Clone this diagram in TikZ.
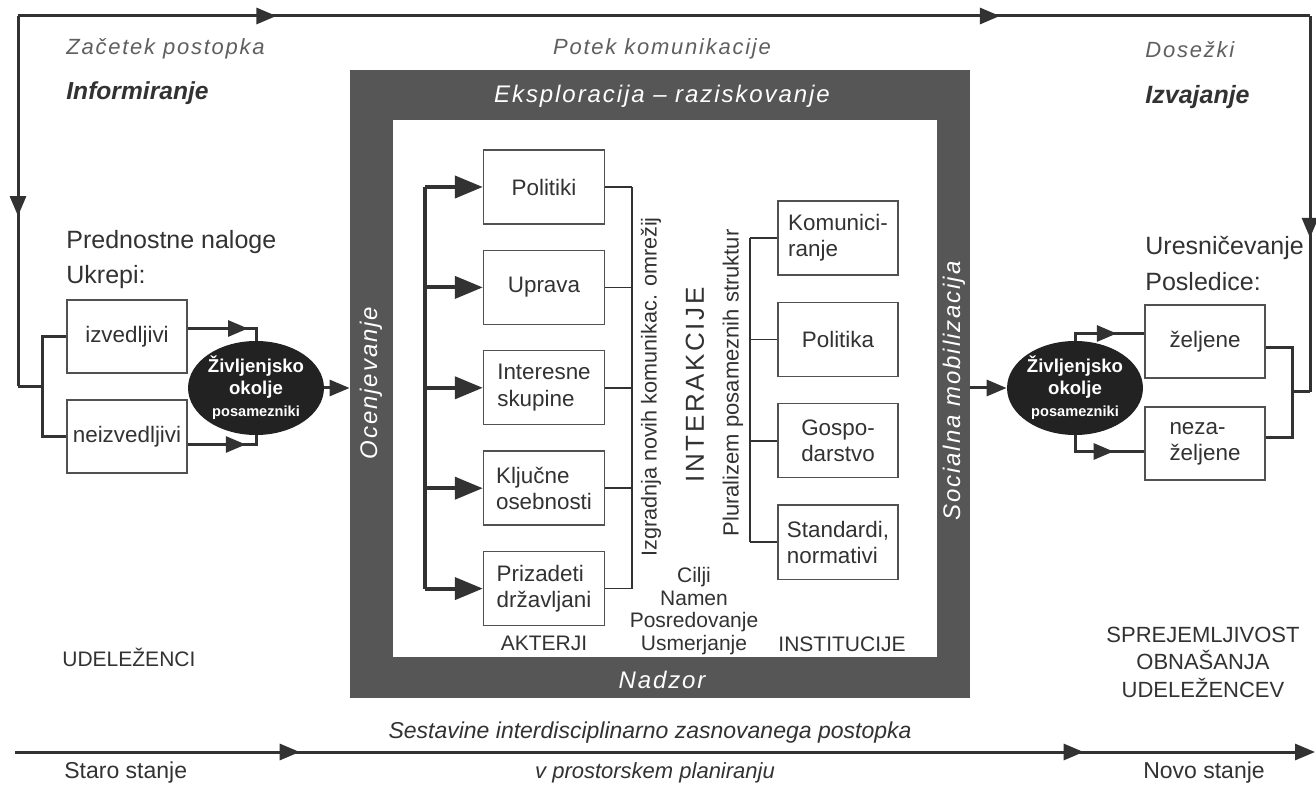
\documentclass[tikz,border=0pt]{standalone}
\usepackage{fontspec}
\setmainfont{Liberation Sans}
\usepackage{tikz}
\usetikzlibrary{arrows.meta, positioning, calc, shapes.geometric, decorations.markings}
\definecolor{ink}{RGB}{50,50,50}
\definecolor{softink}{RGB}{95,95,95}
\definecolor{framegray}{RGB}{86,86,86}
\definecolor{blobgray}{RGB}{34,34,34}
\newcommand{\fsz}[2]{\fontsize{#1}{#2}\selectfont}
\tikzset{
  tipA/.tip={Triangle[length=10pt,width=8pt]},
  tipB/.tip={Triangle[length=14pt,width=11pt]},
  midtip/.style={postaction={decorate},decoration={markings,
    mark=at position #1 with {\arrow{tipA}}}}}

\begin{document}
\begin{tikzpicture}[x=0.5pt,y=-0.5pt,
  box/.style={draw=ink!85,line width=0.7pt,fill=white,minimum width=60.5pt,
    minimum height=37pt,inner sep=2pt,align=left,text=ink,font=\fsz{11.2}{13.2}},
  blob/.style={ellipse,fill=blobgray,minimum width=65pt,minimum height=47pt,
    inner sep=0pt,align=center,text=white,font=\bfseries\fsz{9.3}{11}},
  lbl/.style={text=ink,font=\fsz{12.5}{15},inner sep=0pt,anchor=west},
  tag/.style={text=softink,font=\fsz{11}{13}\itshape\addfontfeature{LetterSpace=8},inner sep=0pt},
  rim/.style={text=white,font=\fsz{12}{14}\itshape\addfontfeature{LetterSpace=8},inner sep=0pt},
  side/.style={text=ink,font=\fsz{10.5}{11.3},inner sep=0pt,align=center},
  flow/.style={draw=ink,line width=1.5pt},
  spine/.style={draw=ink,line width=2pt},
  conn/.style={draw=ink,line width=0.8pt}]
  \fill[white] (0,0) rectangle (1316,785);
  \useasboundingbox (0,0) rectangle (1316,785);
  %% frame
  \node[fill=framegray,minimum width=310pt,minimum height=314pt,inner sep=0pt](frame) at (660,384){};
  \node[fill=white,minimum width=272pt,minimum height=268.5pt,inner sep=0pt](core) at (665,388.5){};
  \node[rim](explo) at (662,96){Eksploracija -- raziskovanje};
  \node[rim](nadz) at (662,680){Nadzor};
  \node[rim,rotate=90](ocen) at (371,383){Ocenjevanje};
  \node[rim,rotate=90](socm) at (954,391){Socialna mobilizacija};
  %% actors
  \node[box](pol) at (544,187){Politiki};
  \node[box,below=12.5pt of pol](upr){Uprava};
  \node[box,below=12.5pt of upr](int){Interesne\\skupine};
  \node[box,below=12.5pt of int](klj){Ključne\\osebnosti};
  \node[box,below=12.5pt of klj](pri){Prizadeti\\državljani};
  \coordinate(sp) at (425,0);
  \coordinate(rc) at (632,0);
  \draw[spine](pol.west-|sp)--(pri.west-|sp);
  \foreach \a in {pol,upr,int,klj,pri}{
    \draw[spine,-{tipB}](\a.west-|sp)--(\a.west);
    \draw[conn](\a.east)--(\a.east-|rc);}
  \draw[conn](pol.east-|rc)--(pri.east-|rc);
  %% institutions
  \node[box,minimum width=60pt](kom) at (838,238){Komunici-\\ranje};
  \node[box,minimum width=60pt,below=13pt of kom](plk){Politika};
  \node[box,minimum width=60pt,below=13pt of plk](gos){Gospo-\\darstvo};
  \node[box,minimum width=60pt,below=13pt of gos](std){Standardi,\\normativi};
  \coordinate(lc) at (750,0);
  \draw[conn](kom.west-|lc)--(std.west-|lc);
  \foreach \a in {kom,plk,gos,std}\draw[conn](\a.west-|lc)--(\a.west);
  %% middle column
  \node[side,rotate=90,font=\fsz{10.8}{13}](izg) at (651,387){Izgradnja novih komunikac. omrežij};
  \node[rotate=90,inner sep=0pt,text=ink,font=\fsz{13}{15}\addfontfeature{LetterSpace=10}](inter) at (695,385){INTERAKCIJE};
  \node[side,rotate=90,font=\fsz{11}{13}](plur) at (733,383){Pluralizem posameznih struktur};
  \node[side](akt) at (544,643){AKTERJI};
  \node[side](cilj) at (694,611){Cilji\\Namen\\Posredovanje\\Usmerjanje};
  \node[side](inst) at (842,644){INSTITUCIJE};
  %% top
  \coordinate(tl) at (18,16);
  \coordinate(tr) at (1310,16);
  \draw[flow,postaction={decorate},decoration={markings,
    mark=at position 0.2 with {\arrow{tipA}},
    mark=at position 0.76 with {\arrow{tipA}}}](tl)--(tr);
  \node[tag,anchor=west](zac) at (66,49){Začetek postopka};
  \node[lbl,font=\fsz{12.3}{15}\bfseries\itshape](inf) at (66,93){Informiranje};
  \node[tag](potek) at (662,49){Potek komunikacije};
  \node[tag,anchor=west](dos) at (1145,50){Dosežki};
  \node[lbl,font=\fsz{12.5}{15}\bfseries\itshape](izvaj) at (1145,97){Izvajanje};
  %% left block
  \node[lbl](pred) at (66,242){Prednostne naloge};
  \node[lbl](ukr) at (66,277){Ukrepi:};
  \node[box,minimum width=60pt,minimum height=36.5pt](izd) at (127,336.5){izvedljivi};
  \node[box,minimum width=60pt,minimum height=36.5pt](neiz) at (127,436.5){neizvedljivi};
  \node[blob](okL) at (256,388){Življenjsko\\okolje\\{\fsz{7.3}{9}posamezniki}};
  \coordinate(lj) at (42,386.5);
  \draw[flow,midtip=0.54](tl)--(tl|-lj);
  \draw[flow](tl|-lj)--(lj);
  \draw[flow](izd.west)-|(lj)|-(neiz.west);
  \draw[flow,midtip=0.75]([yshift=4pt]izd.east)-|(okL.north);
  \draw[flow,midtip=0.75]([yshift=-4pt]neiz.east)-|(okL.south);
  \draw[flow,-{tipA}](okL.east)--(okL.east-|frame.west);
  %% right block
  \node[lbl](ures) at (1145,248){Uresničevanje};
  \node[lbl](posl) at (1145,282){Posledice:};
  \node[blob](okR) at (1075,388){Življenjsko\\okolje\\{\fsz{7.3}{9}posamezniki}};
  \node[box,minimum width=60pt,minimum height=36.5pt](zel) at (1205,341.5){željene};
  \node[box,minimum width=60pt,minimum height=36.5pt](nez) at (1205,443.5){neza-\\željene};
  \coordinate(rj) at (1292,392);
  \draw[flow,-{tipA}](okR.west-|frame.east)--(okR.west);
  \draw[flow,midtip=0.64](okR.north)|-([yshift=4pt]zel.west);
  \draw[flow,midtip=0.64](okR.south)|-([yshift=-4pt]nez.west);
  \draw[flow]([yshift=-3pt]zel.east)-|(rj)|-([yshift=3pt]nez.east);
  \draw[flow,midtip=0.59](tr)--(tr|-rj);
  \draw[flow](rj)--(tr|-rj);
  %% bottom
  \node[lbl,font=\fsz{10.5}{13}](udel) at (62,657){UDELEŽENCI};
  \node[side,font=\fsz{11}{13.75}](sprej) at (1203,662){SPREJEMLJIVOST\\OBNAŠANJA\\UDELEŽENCEV};
  \node[text=ink,inner sep=0pt,font=\fsz{11.5}{14}\itshape](sest) at (650,733){Sestavine interdisciplinarno zasnovanega postopka};
  \coordinate(bl) at (15,752);
  \coordinate(br) at (1315,752);
  \draw[flow,-{tipA},postaction={decorate},decoration={markings,
    mark=at position 0.219 with {\arrow{tipA}},
    mark=at position 0.822 with {\arrow{tipA}}}](bl)--(br);
  \node[lbl,font=\fsz{11.5}{14}](staro) at (64,773){Staro stanje};
  \node[text=ink,inner sep=0pt,font=\fsz{11}{13}\itshape](vpros) at (655,773){v prostorskem planiranju};
  \node[text=ink,inner sep=0pt,font=\fsz{11.5}{14}](novo) at (1204,773){Novo stanje};
\end{tikzpicture}
\end{document}
